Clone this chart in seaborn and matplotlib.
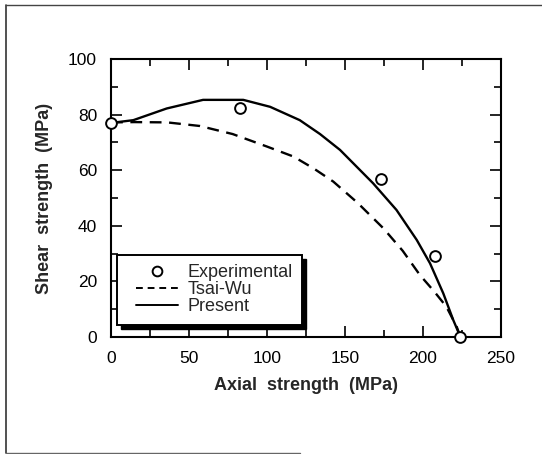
import numpy as np
import pandas as pd
import matplotlib
matplotlib.use("Agg")
import matplotlib.pyplot as plt
from matplotlib.lines import Line2D
from matplotlib.patches import Rectangle
import seaborn as sns

# ---- data ----
exp_x = [0, 83, 173, 208, 224]
exp_y = [77, 82.5, 57, 29, 0]

tsai_x = [0, 15, 36, 57, 78, 100, 117, 130, 142.5, 158, 174.6, 187, 198, 207, 215, 221.6, 224]
tsai_y = [77.2, 77.3, 77.2, 75.9, 73, 68.5, 64.9, 60.6, 55.9, 48.3, 39.1, 31, 22.3, 16.5, 10.9, 3.7, 0]

pres_x = [0, 14.3, 35.7, 59, 84.8, 102, 121, 134, 146.8, 168, 183, 196, 204.5, 213, 219.4, 224]
pres_y = [77, 78, 82.2, 85.3, 85.3, 82.8, 78, 73, 67.3, 55.3, 45.7, 34.9, 26.5, 15.7, 6.1, 0]

x_ticks = [0, 50, 100, 150, 200, 250]
y_ticks = [0, 20, 40, 60, 80, 100]
labels = ["Experimental", "Tsai-Wu", "Present"]

sns.set_style("ticks")
plt.rcParams["font.family"] = ["Liberation Sans", "DejaVu Sans"]

W, H = 542, 454
fig = plt.figure(figsize=(W / 100, H / 100), dpi=100)
ax = fig.add_axes([111 / W, 1 - 337 / H, 390 / W, 278 / H])

sns.lineplot(x=tsai_x, y=tsai_y, ax=ax, color="black", linewidth=1.7,
             linestyle=(0, (5, 3.2)), estimator=None, sort=False)
sns.lineplot(x=pres_x, y=pres_y, ax=ax, color="black", linewidth=1.7,
             estimator=None, sort=False)
sns.scatterplot(x=exp_x, y=exp_y, ax=ax, s=60, facecolor="white",
                edgecolor="black", linewidth=1.4, zorder=5, clip_on=False)

ax.set_xlim(0, 250)
ax.set_ylim(0, 100)
ax.set_xticks(x_ticks)
ax.set_yticks(y_ticks)
ax.set_xticks(np.arange(0, 251, 25), minor=True)
ax.set_yticks(np.arange(0, 101, 10), minor=True)
ax.tick_params(which="both", direction="in", top=True, right=True,
               colors="black", width=1.2, labelsize=12.5)
ax.tick_params(which="major", length=8, pad=10)
ax.tick_params(which="minor", length=5)
for s in ax.spines.values():
    s.set_linewidth(1.5)
    s.set_color("black")

ax.set_xlabel("Axial  strength  (MPa)", fontsize=13, fontweight="bold", labelpad=8)
ax.set_ylabel("Shear  strength  (MPa)", fontsize=13, fontweight="bold", labelpad=11)

# legend box with shadow
bx0, by0 = (117 - 111) / 390, (337 - 325) / 278
bx1, by1 = (302 - 111) / 390, (337 - 255) / 278
shx, shy = 4 / 390, 4 / 278
ax.add_patch(Rectangle((bx0 + shx, by0 - shy), bx1 - bx0, by1 - by0,
                       transform=ax.transAxes, facecolor="black",
                       edgecolor="black", zorder=6))
ax.add_patch(Rectangle((bx0, by0), bx1 - bx0, by1 - by0,
                       transform=ax.transAxes, facecolor="white",
                       edgecolor="black", linewidth=1.4, zorder=7))

handles = [
    Line2D([], [], linestyle="none", marker="o", markersize=7,
           markerfacecolor="white", markeredgecolor="black", markeredgewidth=1.4),
    Line2D([], [], color="black", linewidth=1.4, linestyle=(0, (3.5, 2.5))),
    Line2D([], [], color="black", linewidth=1.4),
]
leg = ax.legend(handles, labels, loc="upper left",
                bbox_to_anchor=((136 - 111) / 390, (337 - 264) / 278),
                frameon=False, borderpad=0, borderaxespad=0, fontsize=13,
                handlelength=2.3, handletextpad=0.55, labelspacing=0.0)
leg.set_zorder(8)

# outer page border
fig.add_artist(Line2D([6 / W, 6 / W], [1 - 5 / H, 1 - 453 / H], color="#333333", lw=1.2))
fig.add_artist(Line2D([6 / W, 1.0], [1 - 5 / H, 1 - 5 / H], color="#444444", lw=1.0))
fig.add_artist(Line2D([6 / W, 300 / W], [1 - 453 / H, 1 - 453 / H], color="#666666", lw=1.0))

fig.savefig("out.png", dpi=100)
